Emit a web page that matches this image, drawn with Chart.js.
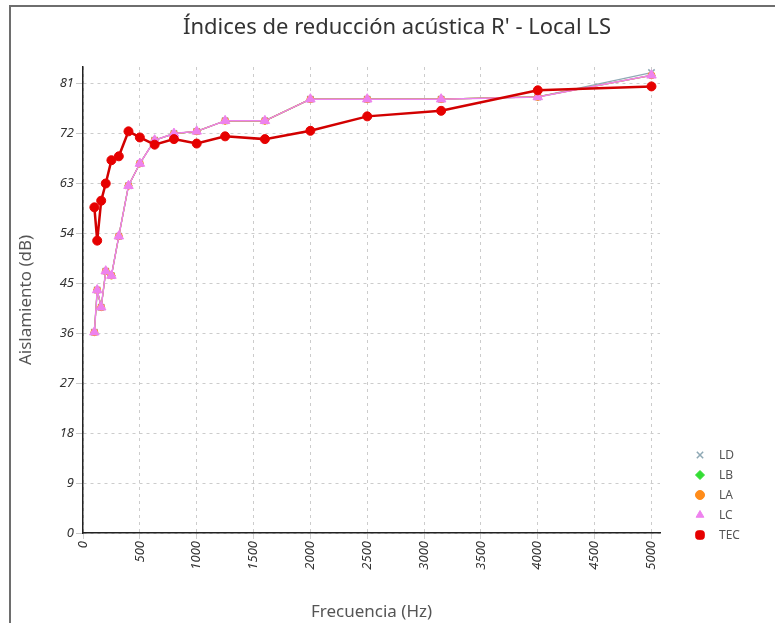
<!DOCTYPE html>
<html>
<head>
<meta charset="utf-8">
<script src="https://cdn.jsdelivr.net/npm/chart.js@4.4.1/dist/chart.umd.min.js"></script>
<style>
  html, body { margin: 0; padding: 0; background: #ffffff; overflow: hidden; }
  canvas { display: block; }
</style>
</head>
<body>
<canvas id="c" width="775" height="623"></canvas>
<script>
const titleText = "Índices de reducción acústica R' - Local LS";
const xTitle = "Frecuencia (Hz)";
const yTitle = "Aislamiento (dB)";
const frequencies = [100, 125, 160, 200, 250, 315, 400, 500, 630, 800, 1000, 1250, 1600, 2000, 2500, 3150, 4000, 5000];
const seriesNames = ["LD", "LB", "LA", "LC", "TEC"];
const LD  = [36.2, 43.8, 40.7, 47.2, 46.4, 53.5, 62.6, 66.6, 70.8, 72.0, 72.4, 74.3, 74.3, 78.2, 78.2, 78.2, 78.6, 83.0];
const LB  = [36.2, 43.8, 40.7, 47.2, 46.4, 53.5, 62.6, 66.6, 70.8, 72.0, 72.4, 74.3, 74.3, 78.2, 78.2, 78.2, 78.6, 82.5];
const LA  = [36.2, 43.8, 40.7, 47.2, 46.4, 53.5, 62.6, 66.6, 70.8, 72.0, 72.4, 74.3, 74.3, 78.2, 78.2, 78.2, 78.6, 82.5];
const LC  = [36.2, 43.8, 40.7, 47.2, 46.4, 53.5, 62.6, 66.6, 70.8, 72.0, 72.4, 74.3, 74.3, 78.2, 78.2, 78.2, 78.6, 82.5];
const TEC = [58.7, 52.7, 59.9, 63.0, 67.2, 67.9, 72.4, 71.3, 70.0, 71.0, 70.2, 71.5, 71.0, 72.5, 75.1, 76.1, 79.8, 80.5];
const yTickValues = [0, 9, 18, 27, 36, 45, 54, 63, 72, 81];
const xTickValues = [0, 500, 1000, 1500, 2000, 2500, 3000, 3500, 4000, 4500, 5000];

const FONT = "'Noto Sans', 'Open Sans', sans-serif";
const toPts = arr => frequencies.map((f, i) => ({ x: f, y: arr[i] }));

const styles = {
  LD:  { color: '#8fa9b5', style: 'crossRot', radius: 4.5, lr: 4.5, width: 1.2, order: 4 },
  LB:  { color: '#33dd33', style: 'rectRot',  radius: 3.5, lr: 4.5, width: 1.2, order: 3 },
  LA:  { color: '#ff8c1a', style: 'circle',   radius: 3.5, lr: 4.5, width: 1.2, order: 2 },
  LC:  { color: '#ee82ee', style: 'triangle', radius: 5.5, lr: 4.5, width: 1.5, order: 1 },
  TEC: { color: '#e60000', style: 'circle',   radius: 4.5, lr: 5,   width: 2.5, order: 0 }
};
const seriesData = { LD, LB, LA, LC, TEC };

const datasets = seriesNames.map(n => ({
  label: n,
  data: toPts(seriesData[n]),
  borderColor: n === 'TEC' ? '#d20000' : styles[n].color,
  backgroundColor: styles[n].color,
  pointBackgroundColor: styles[n].color,
  pointBorderColor: styles[n].color,
  pointStyle: styles[n].style,
  pointRadius: styles[n].radius,
  pointBorderWidth: n === 'LD' ? 1.5 : 1,
  borderWidth: styles[n].width,
  tension: 0,
  order: styles[n].order,
  fill: false
}));

const decorPlugin = {
  id: 'decor',
  beforeDraw(chart) {
    const ctx = chart.ctx;
    ctx.save();
    ctx.strokeStyle = '#6e6e6e';
    ctx.lineWidth = 2;
    ctx.beginPath();
    ctx.moveTo(10, 640);
    ctx.lineTo(10, 6);
    ctx.lineTo(790, 6);
    ctx.stroke();
    ctx.restore();
  },
  afterDraw(chart) {
    const ctx = chart.ctx;
    ctx.save();
    ctx.fillStyle = '#333333';
    ctx.font = "22px " + FONT;
    ctx.textAlign = 'center';
    ctx.textBaseline = 'middle';
    ctx.fillText(titleText, 397, 28);
    // legend
    const legendX = 700, legendY0 = 455, step = 20;
    ctx.font = "12px " + FONT;
    ctx.textAlign = 'left';
    seriesNames.forEach((n, i) => {
      const y = legendY0 + i * step;
      const s = styles[n];
      ctx.fillStyle = s.color;
      ctx.strokeStyle = s.color;
      ctx.lineWidth = n === 'LD' ? 1.5 : 1;
      let st = s.style;
      if (n === 'TEC') st = 'rectRounded';
      Chart.helpers.drawPoint(ctx, { pointStyle: st, radius: s.lr, rotation: 0, borderWidth: ctx.lineWidth }, legendX, y);
      ctx.fillStyle = '#555555';
      ctx.fillText(n, legendX + 19, y + 1);
    });
    ctx.restore();
  }
};

new Chart(document.getElementById('c'), {
  type: 'line',
  data: { datasets },
  options: {
    responsive: false,
    animation: false,
    layout: { padding: { left: 0, top: 67, right: 115, bottom: 0 } },
    plugins: { legend: { display: false }, title: { display: false }, tooltip: { enabled: false } },
    scales: {
      x: {
        type: 'linear', min: 0, max: 5075,
        afterBuildTicks: axis => { axis.ticks = xTickValues.map(v => ({ value: v })); },
        afterFit: s => { s.height = 90; },
        ticks: {
          minRotation: 90, maxRotation: 90, padding: 2, color: '#333333',
          font: { family: FONT, size: 13, style: 'italic' },
          callback: v => String(v)
        },
        grid: { color: '#cccccc', lineWidth: 1, tickLength: 6, tickColor: '#d0d0d0' },
        border: { color: '#222222', width: 1.5, dash: [3, 4] },
        title: { display: true, text: xTitle, color: '#555555', font: { family: FONT, size: 17 }, padding: { top: 4, bottom: 1 } }
      },
      y: {
        type: 'linear', min: 0, max: 84,
        afterBuildTicks: axis => { axis.ticks = yTickValues.map(v => ({ value: v })); },
        afterFit: s => { s.width = 83; },
        ticks: {
          padding: 2, color: '#333333',
          font: { family: FONT, size: 13, style: 'italic' },
          callback: v => String(v)
        },
        grid: { color: '#cccccc', lineWidth: 1, tickLength: 7, tickColor: '#c8c8c8' },
        border: { color: '#222222', width: 1.5, dash: [3, 4] },
        title: { display: true, text: yTitle, color: '#555555', font: { family: FONT, size: 17 }, padding: { top: 16, bottom: 0 } }
      }
    }
  },
  plugins: [decorPlugin]
});
</script>
</body>
</html>
